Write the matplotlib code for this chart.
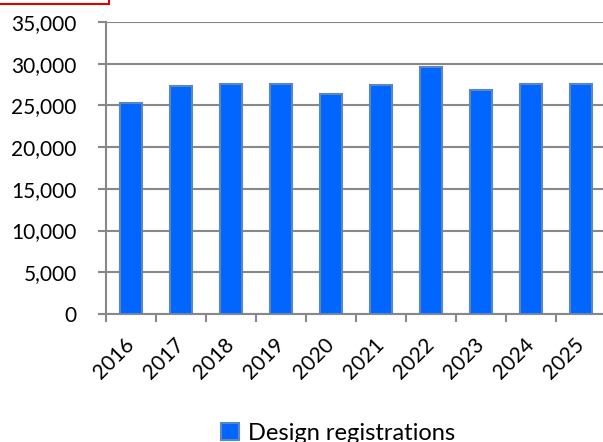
import matplotlib
matplotlib.use("Agg")
import matplotlib.pyplot as plt
from matplotlib.patches import Rectangle
from matplotlib.ticker import FuncFormatter, FixedLocator
import numpy as np

years = ["2016", "2017", "2018", "2019", "2020", "2021", "2022", "2023", "2024", "2025"]
registrations = [25300, 27300, 27600, 27600, 26400, 27500, 29600, 26900, 27600, 27600]
series_name = "Design registrations"
y_ticks = [0, 5000, 10000, 15000, 20000, 25000, 30000, 35000]

plt.rcParams['font.family'] = ['Lato', 'DejaVu Sans']

W, H = 603, 442
fig = plt.figure(figsize=(W / 100, H / 100), dpi=100)
ax = fig.add_axes([106 / W, 1 - 314 / H, 500 / W, (314 - 22) / H])

x = np.arange(len(years))
bars = ax.bar(x, registrations, width=0.44, color="#0066FF", edgecolor="#5B86C2",
              linewidth=1.5, label=series_name, zorder=3)

ax.set_xlim(-0.5, len(years) - 0.5)
ax.set_ylim(0, 35000)
ax.yaxis.set_major_locator(FixedLocator(y_ticks))
ax.yaxis.set_major_formatter(FuncFormatter(lambda v, p: f"{int(v):,}"))
ax.grid(axis="y", color="#888888", linewidth=1.5, zorder=0)

ax.set_xticks(x)
ax.set_xticklabels(years, rotation=45, ha="right", va="center", rotation_mode="anchor", fontsize=15)
ax.tick_params(axis="x", which="major", length=0, pad=20)
ax.set_xticks(np.arange(-0.5, len(years)), minor=True)
ax.tick_params(axis="x", which="minor", length=6, width=1.5, color="#888888", direction="out")
ax.tick_params(axis="y", length=6, width=1.5, color="#888888", labelsize=15, pad=15)

for s in ["top", "right"]:
    ax.spines[s].set_visible(False)
for s in ["left", "bottom"]:
    ax.spines[s].set_color("#888888")
    ax.spines[s].set_linewidth(1.5)

fig.legend(handles=[bars], labels=[series_name], loc="center", bbox_to_anchor=(338 / W, 1 - 433 / H),
           frameon=False, fontsize=17, handlelength=0.75, handleheight=0.75, handletextpad=0.4)

fig.patches.append(Rectangle((-10 / W, 1 - 4 / H), 119 / W, 20 / H, transform=fig.transFigure,
                             fill=False, edgecolor="#E00000", linewidth=1.5, clip_on=False))

fig.savefig("out.png", dpi=100)
